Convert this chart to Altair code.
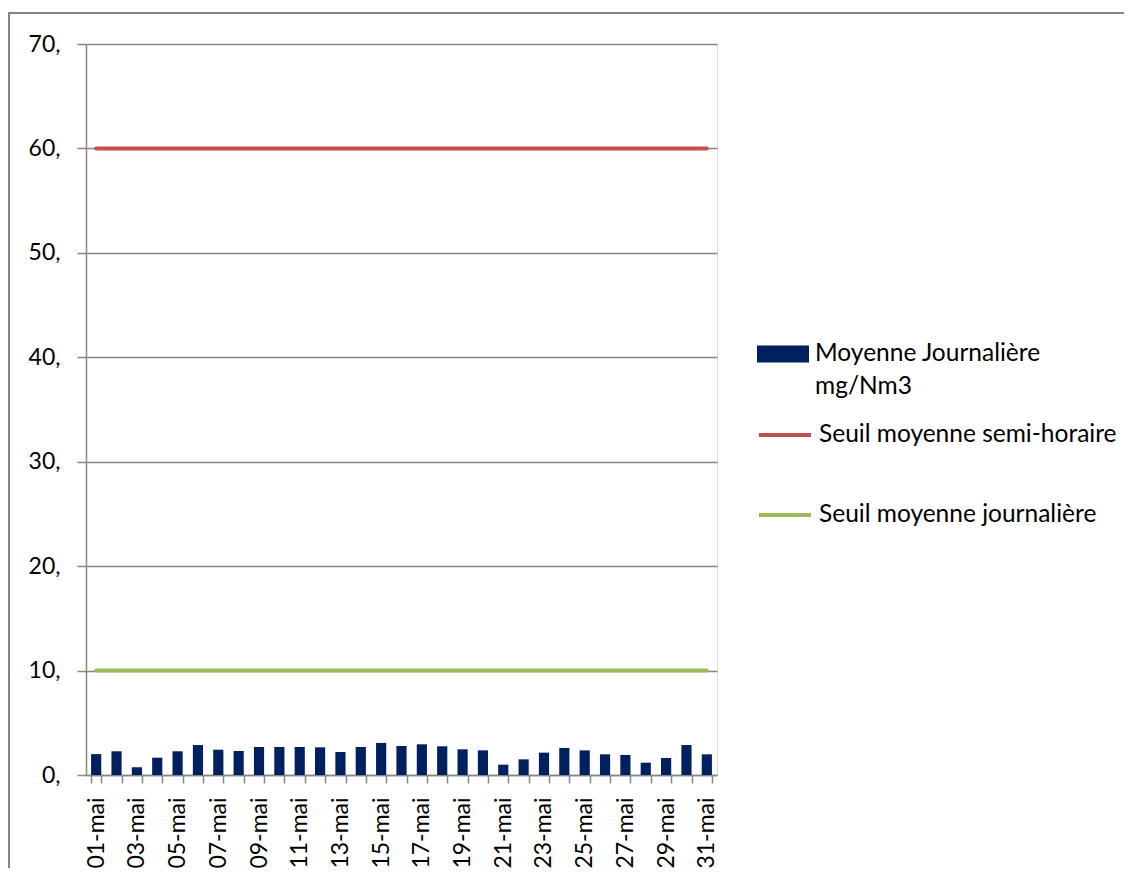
import altair as alt
import pandas as pd

days = [f"{d:02d}-mai" for d in range(1, 32)]
moyenne = [2.0, 2.27, 0.74, 1.66, 2.27, 2.87, 2.42, 2.3, 2.68, 2.68, 2.68, 2.65, 2.2, 2.68, 3.07, 2.78,
           2.94, 2.75, 2.46, 2.36, 0.99, 1.5, 2.14, 2.59, 2.36, 1.98, 1.92, 1.18, 1.63, 2.87, 1.98]
seuil_semi = [60] * 31
seuil_jour = [10] * 31
y_ticks = [0, 10, 20, 30, 40, 50, 60, 70]

bar_name = "Moyenne Journalière"
bar_unit = "mg/Nm3"
semi_name = "Seuil moyenne semi-horaire"
jour_name = "Seuil moyenne journalière"

df_bar = pd.DataFrame({"day": days, "value": moyenne, "series": bar_name, "unit": bar_unit})
df_lines = pd.concat([
    pd.DataFrame({"day": days, "value": seuil_semi, "series": semi_name}),
    pd.DataFrame({"day": days, "value": seuil_jour, "series": jour_name}),
])

FONT = "Lato"
GRID = "#868686"
LEG_FS = 24.5

x_enc = alt.X(
    "day:N", sort=days, title=None,
    scale=alt.Scale(paddingInner=0.5, paddingOuter=0.25),
    axis=alt.Axis(
        tickBand="extent", labelAngle=270, labelAlign="right", labelBaseline="middle",
        labelExpr="parseInt(substring(datum.label,0,2)) % 2 == 1 ? datum.label : ''",
        labelOverlap=False, labelFontSize=23, labelFont=FONT, labelColor="black",
        labelPadding=14, tickSize=8, tickColor=GRID, domainColor=GRID, domainWidth=1.5,
        tickWidth=1.5, grid=False,
    ),
)
y_enc = alt.Y(
    "value:Q", title=None,
    scale=alt.Scale(domain=[0, 70], nice=False),
    axis=alt.Axis(
        values=y_ticks, labelExpr="datum.value + ','", labelFontSize=23, labelFont=FONT,
        labelColor="black", labelPadding=17, tickSize=9, tickColor=GRID, tickWidth=1.5,
        domainColor=GRID, domainWidth=1.5, gridColor=GRID, gridWidth=1.5,
    ),
)

frame = alt.Chart(pd.DataFrame({"a": [0]})).mark_rect(
    fillOpacity=0, stroke=GRID, strokeWidth=2
).encode(x=alt.value(-77), y=alt.value(-31), x2=alt.value(1300), y2=alt.value(1000))

bars = alt.Chart(df_bar).mark_bar(color="#002060").encode(
    x=x_enc, y=y_enc,
    fill=alt.Fill("series:N", scale=alt.Scale(domain=[bar_name], range=["#002060"]),
                  legend=alt.Legend(
                      title=None, orient="none", legendX=671, legendY=284,
                      symbolType="M-1,-0.33H1V0.33H-1Z", symbolSize=2704, symbolStrokeWidth=0,
                      labelFontSize=LEG_FS, labelFont=FONT, labelColor="black", labelOffset=6,
                      labelLimit=400,
                  )),
    opacity=alt.Opacity("unit:N", scale=alt.Scale(domain=[bar_unit], range=[1]),
                        legend=alt.Legend(
                            title=None, orient="none", legendX=671, legendY=317,
                            symbolType="M-1,-1L-1,-1M1,1L1,1", symbolSize=2704,
                            symbolStrokeWidth=0, symbolFillColor="white",
                            labelFontSize=LEG_FS, labelFont=FONT, labelColor="black", labelOffset=6,
                            labelLimit=400,
                        )),
)

lines = alt.Chart(df_lines).mark_line(strokeWidth=4, strokeCap="round").encode(
    x=alt.X("day:N", sort=days),
    y="value:Q",
    stroke=alt.Stroke("series:N", scale=alt.Scale(domain=[semi_name, jour_name], range=["#C0504D", "#9BBB59"]),
                      legend=alt.Legend(
                          title=None, orient="none", legendX=671, legendY=363,
                          symbolType="stroke", symbolSize=2704, symbolStrokeWidth=4,
                          labelFontSize=LEG_FS, labelFont=FONT, labelColor="black", labelOffset=6,
                          rowPadding=40, labelLimit=400,
                      )),
)

chart = alt.layer(frame, bars, lines).properties(
    width=631, height=731,
    autosize=alt.AutoSizeParams(type="none"),
    padding={"left": 78, "top": 36, "right": 407, "bottom": 93},
).configure_view(stroke=None).configure(background="white")

chart.save("out.html", embed_options={"renderer": "svg", "actions": False})
